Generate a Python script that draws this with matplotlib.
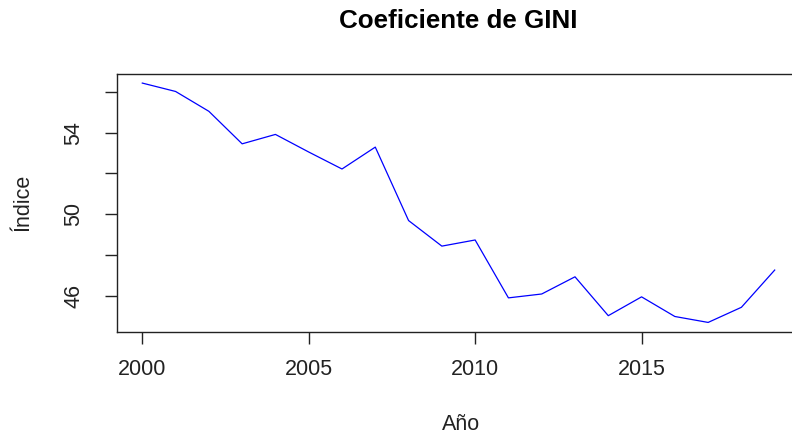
import matplotlib
matplotlib.use("Agg")
import matplotlib.pyplot as plt
import numpy as np

years = list(range(2000, 2020))
gini = [56.42, 56.01, 55.04, 53.45, 53.91, 53.05, 52.22, 53.29, 49.70, 48.45,
        48.75, 45.92, 46.11, 46.95, 45.05, 45.97, 45.01, 44.72, 45.46, 47.28]
xticks = [2000, 2005, 2010, 2015]
yticks = [46, 48, 50, 52, 54, 56]
ytick_labels = ["46", "", "50", "", "54", ""]

plt.rcParams['font.family'] = ['Liberation Sans', 'DejaVu Sans']

fig = plt.figure(figsize=(7.92, 4.38), dpi=100)
W, H = 792, 438
left, right, top, bottom = 117, 800, 73.5, 332
ax = fig.add_axes([left / W, 1 - bottom / H, (right - left) / W, (bottom - top) / H])

ax.plot(years, gini, color='#0000FF', linewidth=0.9)

xr = max(years) - min(years)
ax.set_xlim(min(years) - 0.04 * xr, max(years) + 0.04 * xr)
yr = max(gini) - min(gini)
ax.set_ylim(min(gini) - 0.04 * yr, max(gini) + 0.04 * yr)

ax.set_xticks(xticks)
ax.set_xticklabels([str(x) for x in xticks])
ax.set_yticks(yticks)
ax.set_yticklabels(ytick_labels, rotation=90, va='center')

for s in ax.spines.values():
    s.set_color('#222222')
    s.set_linewidth(1.0)
ax.tick_params(axis='both', length=8.6, width=1.0, color='#222222', labelsize=15.5, labelcolor='#222222')
ax.tick_params(axis='x', pad=10.6)
ax.tick_params(axis='y', pad=14.7)

fig.text(458 / W, 1 - 21 / H, "Coeficiente de GINI", ha='center', va='center',
         fontsize=18.7, fontweight='bold', color='black')
fig.text(461 / W, 1 - 424 / H, "Año", ha='center', va='center', fontsize=15.5, color='#222222')
fig.text(23 / W, 1 - 202.5 / H, "Índice", ha='center', va='center', fontsize=15.5,
         rotation=90, color='#222222')

fig.savefig("out.png", dpi=100)
